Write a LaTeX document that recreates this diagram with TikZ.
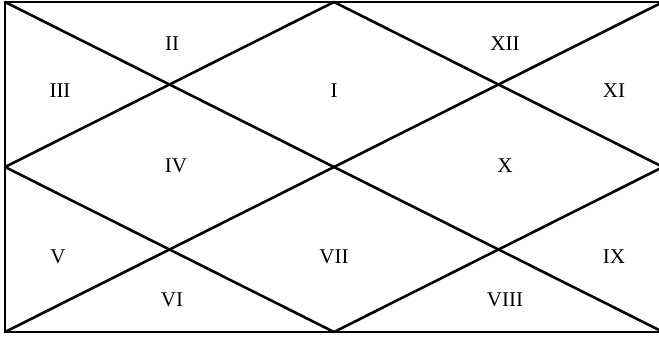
\documentclass[tikz,border=0pt]{standalone}
\usepackage{fontspec}
\setmainfont{Liberation Serif}
\begin{document}
\begin{tikzpicture}[x=1pt,y=-1pt,
  chartline/.style={line width=2.6pt, line join=bevel},
  house/.style={font=\fontsize{21}{24}\selectfont, inner sep=0pt}]
\useasboundingbox (0,0) rectangle (659,339);
% corners and edge midpoints of the chart square
\coordinate (tl) at (5,2);
\coordinate (tr) at (663,2);
\coordinate (bl) at (5,332);
\coordinate (br) at (663,332);
\coordinate (tm) at (334,2);
\coordinate (bm) at (334,332);
\coordinate (lm) at (5,167);
\coordinate (rm) at (663,167);
% outer frame, diagonals and inner diamond
\draw[chartline, line join=miter] (tl) rectangle (br);
\draw[chartline] (tl) -- (br);
\draw[chartline] (bl) -- (tr);
\draw[chartline] (tm) -- (rm) -- (bm) -- (lm) -- cycle;
% house numbers
\node[house] (h1) at (334,91) {I};
\node[house] (h2) at (172,44) {II};
\node[house] (h3) at (60,91) {III};
\node[house] (h4) at (176,166) {IV};
\node[house] (h5) at (58,257) {V};
\node[house] (h6) at (172,300) {VI};
\node[house] (h7) at (334,257) {VII};
\node[house] (h8) at (505,300) {VIII};
\node[house] (h9) at (614,257) {IX};
\node[house] (h10) at (505,166) {X};
\node[house] (h11) at (614,91) {XI};
\node[house] (h12) at (505,44) {XII};
\end{tikzpicture}
\end{document}
